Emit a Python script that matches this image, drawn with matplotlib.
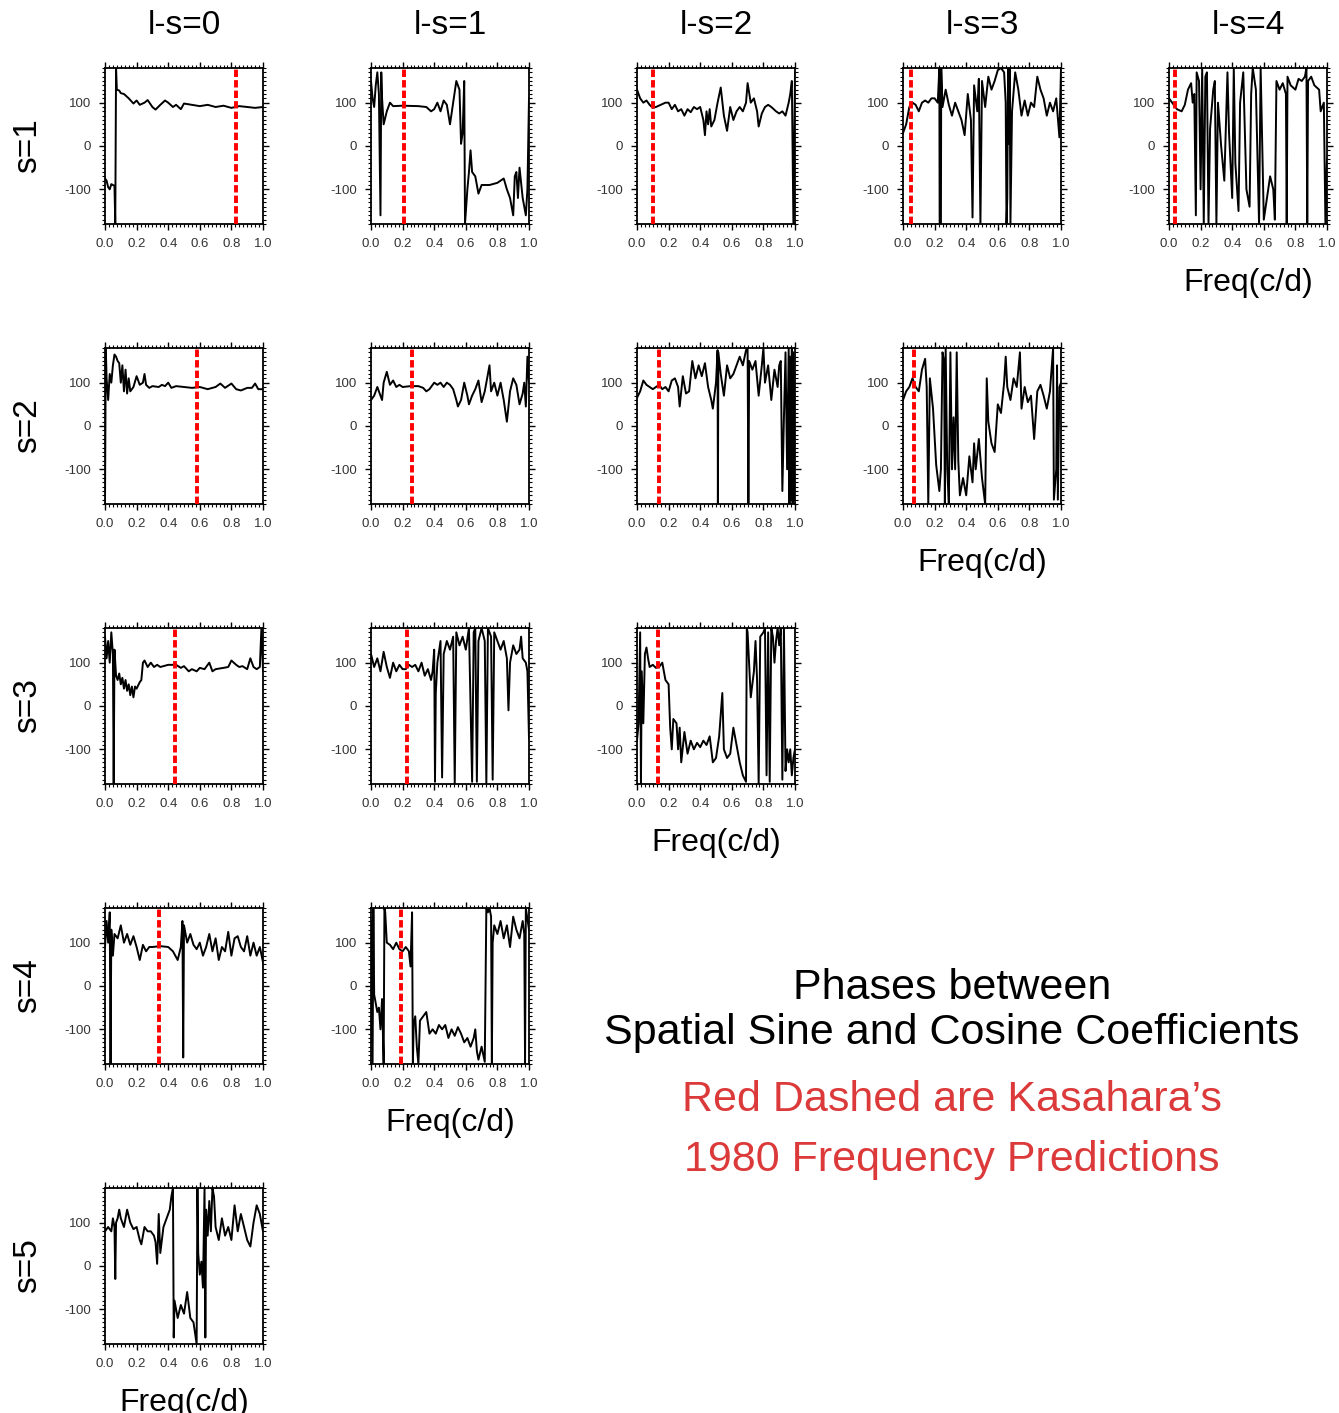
import numpy as np
import matplotlib
matplotlib.use("Agg")
import matplotlib.pyplot as plt
from matplotlib.ticker import MultipleLocator

plt.rcParams['font.family'] = ['Liberation Sans', 'DejaVu Sans']
plt.rcParams['axes.unicode_minus'] = False

W, H = 1339, 1413

# phase (deg) vs frequency (c/d); key = (s, l-s)
s1_ls0 = [(0.0, -75), (0.01, -80), (0.02, -95), (0.03, -100), (0.04, -88), (0.06, -92), (0.065, -180),
          (0.07, 180), (0.075, 130), (0.09, 128), (0.1, 122), (0.12, 120), (0.15, 110), (0.18, 98),
          (0.2, 105), (0.22, 95), (0.25, 100), (0.27, 106), (0.3, 90), (0.32, 84), (0.35, 95),
          (0.38, 105), (0.4, 100), (0.43, 90), (0.45, 95), (0.48, 85), (0.5, 98), (0.55, 95),
          (0.6, 92), (0.65, 95), (0.7, 90), (0.75, 93), (0.8, 88), (0.85, 92), (0.9, 90),
          (0.95, 88), (1.0, 90)]
s1_ls1 = [(0.0, 150), (0.01, 110), (0.02, 90), (0.03, 140), (0.04, 170), (0.05, 120), (0.06, -160),
          (0.065, 170), (0.07, 110), (0.08, 50), (0.1, 80), (0.12, 100), (0.14, 92), (0.2, 93),
          (0.3, 92), (0.35, 90), (0.38, 80), (0.4, 85), (0.42, 100), (0.44, 80), (0.46, 105),
          (0.48, 95), (0.5, 50), (0.52, 100), (0.54, 150), (0.56, 130), (0.57, 5), (0.58, 30),
          (0.59, 150), (0.595, -180), (0.61, -100), (0.62, -60), (0.63, -10), (0.64, -60),
          (0.66, -70), (0.68, -110), (0.7, -90), (0.75, -90), (0.8, -85), (0.84, -75), (0.86, -100),
          (0.88, -120), (0.9, -160), (0.91, -70), (0.92, -60), (0.93, -120), (0.94, -50),
          (0.96, -120), (0.98, -160), (0.99, -100), (1.0, 110)]
s1_ls2 = [(0.0, 130), (0.02, 110), (0.04, 100), (0.06, 105), (0.08, 95), (0.1, 88), (0.12, 90),
          (0.15, 95), (0.18, 100), (0.2, 100), (0.22, 85), (0.24, 95), (0.26, 80), (0.28, 85),
          (0.3, 70), (0.32, 85), (0.34, 78), (0.36, 90), (0.38, 85), (0.4, 90), (0.42, 60),
          (0.43, 25), (0.44, 80), (0.45, 50), (0.46, 85), (0.47, 45), (0.49, 60), (0.51, 100),
          (0.53, 135), (0.55, 70), (0.57, 35), (0.59, 90), (0.61, 60), (0.63, 80), (0.65, 90),
          (0.67, 80), (0.69, 100), (0.7, 145), (0.72, 100), (0.74, 110), (0.76, 80), (0.77, 45),
          (0.79, 75), (0.81, 90), (0.83, 95), (0.85, 90), (0.88, 80), (0.9, 75), (0.92, 80),
          (0.94, 70), (0.96, 100), (0.97, 120), (0.98, 150), (0.99, -180), (1.0, 170)]
s1_ls3 = [(0.0, 30), (0.02, 50), (0.04, 90), (0.06, 100), (0.08, 95), (0.1, 80), (0.12, 100),
          (0.14, 105), (0.16, 100), (0.18, 110), (0.2, 110), (0.22, 100), (0.23, 180), (0.232, -180),
          (0.24, -180), (0.242, 180), (0.25, 90), (0.27, 130), (0.29, 95), (0.31, 70), (0.33, 100),
          (0.35, 80), (0.37, 60), (0.39, 25), (0.41, 120), (0.43, 60), (0.44, -165), (0.45, 140),
          (0.47, 80), (0.48, 155), (0.49, -180), (0.5, 150), (0.52, 90), (0.54, 160), (0.56, 130),
          (0.58, 150), (0.6, 175), (0.62, 180), (0.64, 170), (0.65, 100), (0.655, -180),
          (0.66, -120), (0.665, 180), (0.67, 5), (0.675, 180), (0.68, -180), (0.69, 80),
          (0.71, 170), (0.73, 130), (0.75, 70), (0.77, 105), (0.79, 70), (0.81, 100), (0.83, 90),
          (0.85, 160), (0.87, 130), (0.89, 110), (0.91, 70), (0.93, 100), (0.95, 80), (0.97, 110),
          (0.99, 20), (1.0, 180)]
s1_ls4 = [(0.0, 110), (0.03, 95), (0.05, 85), (0.08, 80), (0.1, 95), (0.12, 130), (0.14, 145),
          (0.15, 100), (0.16, 120), (0.17, -160), (0.175, 170), (0.19, 150), (0.2, -100),
          (0.21, 180), (0.22, -180), (0.23, 160), (0.24, 170), (0.25, -180), (0.26, 40),
          (0.28, 130), (0.29, 150), (0.3, -180), (0.31, 100), (0.33, 0), (0.35, -80), (0.37, 170),
          (0.38, 30), (0.4, -120), (0.41, 180), (0.42, -40), (0.44, -150), (0.45, 100), (0.47, 170),
          (0.49, -100), (0.51, -140), (0.52, 120), (0.53, 180), (0.55, 130), (0.57, -180),
          (0.58, 180), (0.6, -170), (0.62, -120), (0.64, -70), (0.66, -100), (0.67, -170),
          (0.68, 150), (0.7, 130), (0.72, 145), (0.74, 120), (0.745, -180), (0.75, 160),
          (0.77, 140), (0.8, 130), (0.82, 155), (0.84, 150), (0.86, 160), (0.87, 180),
          (0.875, -180), (0.88, 150), (0.9, 160), (0.92, 140), (0.95, 130), (0.96, 80), (0.98, 100),
          (0.99, -180), (1.0, -30)]

s2_ls0 = [(0.0, -180), (0.005, 180), (0.01, 110), (0.02, 60), (0.03, 120), (0.04, 100), (0.05, 140),
          (0.06, 165), (0.07, 160), (0.08, 150), (0.09, 145), (0.1, 100), (0.11, 140), (0.12, 80),
          (0.13, 130), (0.14, 75), (0.15, 110), (0.16, 80), (0.18, 90), (0.2, 115), (0.22, 95),
          (0.24, 100), (0.25, 120), (0.26, 95), (0.28, 88), (0.3, 92), (0.34, 90), (0.36, 95),
          (0.38, 92), (0.4, 100), (0.42, 88), (0.45, 92), (0.5, 90), (0.55, 88), (0.6, 90),
          (0.65, 85), (0.7, 90), (0.73, 98), (0.76, 88), (0.8, 98), (0.83, 85), (0.86, 82),
          (0.9, 88), (0.93, 88), (0.95, 98), (0.97, 85), (1.0, 85)]
s2_ls1 = [(0.0, 60), (0.02, 70), (0.04, 90), (0.06, 70), (0.07, 60), (0.08, 100), (0.1, 125),
          (0.12, 95), (0.14, 105), (0.16, 90), (0.18, 95), (0.2, 90), (0.25, 92), (0.3, 92),
          (0.33, 88), (0.35, 80), (0.37, 85), (0.4, 100), (0.42, 95), (0.44, 100), (0.46, 90),
          (0.48, 100), (0.5, 95), (0.52, 85), (0.54, 60), (0.55, 45), (0.57, 60), (0.59, 100),
          (0.61, 70), (0.62, 50), (0.64, 70), (0.66, 85), (0.68, 105), (0.7, 55), (0.72, 80),
          (0.74, 120), (0.75, 140), (0.76, 80), (0.78, 100), (0.8, 70), (0.82, 100), (0.84, 60),
          (0.86, 10), (0.88, 80), (0.9, 110), (0.92, 95), (0.94, 50), (0.96, 75), (0.97, 100),
          (0.98, 45), (0.99, 160), (1.0, 100)]
s2_ls2 = [(0.0, 65), (0.02, 80), (0.04, 105), (0.06, 95), (0.08, 90), (0.1, 85), (0.12, 90),
          (0.14, 95), (0.16, 85), (0.18, 90), (0.2, 80), (0.22, 105), (0.24, 110), (0.26, 90),
          (0.27, 45), (0.29, 115), (0.31, 75), (0.33, 80), (0.35, 150), (0.37, 110), (0.39, 140),
          (0.41, 115), (0.43, 145), (0.45, 90), (0.47, 60), (0.48, 40), (0.5, 100), (0.51, 175),
          (0.512, -180), (0.515, 170), (0.53, 120), (0.55, 70), (0.57, 140), (0.59, 110),
          (0.61, 120), (0.63, 140), (0.65, 160), (0.67, 140), (0.69, 175), (0.7, 180),
          (0.705, -180), (0.71, 150), (0.73, 130), (0.75, 150), (0.77, 70), (0.79, 140),
          (0.8, 180), (0.81, 100), (0.83, 140), (0.85, 60), (0.87, 130), (0.89, 90), (0.9, 140),
          (0.91, 150), (0.92, -150), (0.93, 20), (0.94, 170), (0.95, -100), (0.96, 180),
          (0.965, -180), (0.97, 160), (0.975, -170), (0.98, 180), (0.985, -180), (0.99, 170),
          (1.0, -170)]
s2_ls3 = [(0.0, 60), (0.02, 80), (0.04, 90), (0.06, 110), (0.08, 90), (0.1, 80), (0.12, 130),
          (0.14, 155), (0.15, 90), (0.16, -180), (0.17, 110), (0.19, 40), (0.21, -90), (0.23, -150),
          (0.24, -100), (0.25, 170), (0.26, 150), (0.265, -180), (0.27, 180), (0.28, -100),
          (0.29, -180), (0.3, 170), (0.31, -100), (0.32, 20), (0.33, -100), (0.34, 170), (0.35, -80),
          (0.36, -160), (0.38, -120), (0.4, -160), (0.42, -70), (0.44, -130), (0.45, -40),
          (0.46, -100), (0.48, -30), (0.5, -120), (0.52, -180), (0.53, 110), (0.54, 10),
          (0.56, -40), (0.58, -60), (0.6, 50), (0.62, 30), (0.64, 100), (0.65, 160), (0.66, 90),
          (0.68, 60), (0.7, 110), (0.72, 90), (0.74, 170), (0.75, 40), (0.77, 90), (0.79, 55),
          (0.81, 70), (0.83, -30), (0.85, 80), (0.87, 95), (0.89, 70), (0.91, 40), (0.93, 80),
          (0.95, 180), (0.955, -170), (0.97, -100), (0.975, 140), (0.98, -170), (0.99, 90),
          (1.0, 100)]

s3_ls0 = [(0.0, 160), (0.01, 110), (0.02, 150), (0.03, 100), (0.04, 170), (0.05, 120), (0.055, -180),
          (0.06, 130), (0.07, 70), (0.08, 60), (0.09, 75), (0.1, 50), (0.11, 65), (0.12, 40),
          (0.13, 60), (0.14, 35), (0.15, 50), (0.16, 25), (0.17, 45), (0.18, 20), (0.19, 45),
          (0.2, 40), (0.22, 55), (0.23, 60), (0.24, 100), (0.25, 105), (0.27, 90), (0.29, 100),
          (0.31, 90), (0.33, 95), (0.35, 90), (0.4, 95), (0.45, 95), (0.48, 88), (0.5, 92),
          (0.53, 80), (0.55, 85), (0.58, 80), (0.6, 88), (0.63, 85), (0.66, 100), (0.68, 80),
          (0.7, 85), (0.75, 88), (0.78, 90), (0.8, 105), (0.83, 95), (0.85, 90), (0.87, 92),
          (0.9, 85), (0.92, 110), (0.94, 90), (0.96, 85), (0.98, 90), (0.99, 180), (1.0, 80)]
s3_ls1 = [(0.0, 120), (0.02, 90), (0.04, 110), (0.06, 80), (0.08, 125), (0.1, 90), (0.12, 65),
          (0.14, 100), (0.16, 80), (0.18, 95), (0.2, 85), (0.22, 85), (0.24, 95), (0.26, 90),
          (0.28, 95), (0.3, 80), (0.32, 100), (0.34, 70), (0.36, 85), (0.38, 60), (0.39, 80),
          (0.4, 130), (0.405, -175), (0.41, 30), (0.42, 100), (0.44, 150), (0.45, -165), (0.46, 120),
          (0.48, 150), (0.5, 130), (0.52, 160), (0.53, -180), (0.54, 170), (0.56, 140), (0.58, 160),
          (0.6, 130), (0.62, 180), (0.64, -175), (0.65, 170), (0.66, 180), (0.67, -175), (0.68, 150),
          (0.7, 180), (0.72, 150), (0.73, -180), (0.74, 180), (0.76, 160), (0.77, -170), (0.78, 170),
          (0.8, 150), (0.82, 130), (0.84, 150), (0.86, 110), (0.87, -10), (0.88, 100), (0.9, 140),
          (0.92, 120), (0.94, 130), (0.95, 160), (0.96, 110), (0.98, 100), (0.99, 80), (1.0, -75)]
s3_ls2 = [(0.0, -80), (0.01, -40), (0.02, 170), (0.025, -180), (0.03, 80), (0.04, -40), (0.05, 120),
          (0.06, 135), (0.07, 110), (0.08, 90), (0.1, 95), (0.12, 88), (0.14, 90), (0.16, 100),
          (0.17, 80), (0.18, 60), (0.2, 50), (0.21, -50), (0.22, -100), (0.23, -30), (0.25, -40),
          (0.26, -100), (0.27, -50), (0.28, -130), (0.3, -60), (0.32, -110), (0.34, -80),
          (0.36, -100), (0.38, -85), (0.4, -95), (0.42, -80), (0.44, -90), (0.46, -70), (0.48, -130),
          (0.5, -120), (0.52, -70), (0.53, -20), (0.54, 30), (0.55, -100), (0.57, -120),
          (0.59, -110), (0.61, -50), (0.63, -90), (0.65, -130), (0.67, -160), (0.69, -175),
          (0.695, 180), (0.7, 170), (0.72, 20), (0.74, 80), (0.75, 150), (0.76, 60), (0.77, -180),
          (0.78, 160), (0.8, 170), (0.81, 180), (0.82, -160), (0.83, 170), (0.84, -175),
          (0.85, 180), (0.86, 160), (0.87, 100), (0.88, 150), (0.89, 180), (0.9, 140), (0.91, 180),
          (0.92, -170), (0.93, 180), (0.94, -150), (0.95, -100), (0.96, -130), (0.97, -100),
          (0.98, -160), (0.99, -120), (1.0, -100)]

s4_ls0 = [(0.0, 90), (0.01, 150), (0.02, 100), (0.03, 170), (0.035, -180), (0.04, 130), (0.05, 70),
          (0.06, 120), (0.08, 110), (0.1, 140), (0.12, 100), (0.14, 120), (0.16, 95), (0.18, 115),
          (0.2, 90), (0.22, 60), (0.24, 95), (0.26, 80), (0.28, 90), (0.3, 90), (0.35, 92),
          (0.4, 90), (0.43, 80), (0.46, 60), (0.48, 90), (0.49, 150), (0.495, -165), (0.5, 140),
          (0.52, 100), (0.54, 120), (0.56, 95), (0.58, 85), (0.6, 100), (0.62, 70), (0.64, 90),
          (0.66, 120), (0.68, 80), (0.7, 110), (0.72, 60), (0.74, 90), (0.76, 80), (0.78, 125),
          (0.8, 70), (0.82, 110), (0.84, 115), (0.86, 90), (0.88, 80), (0.9, 115), (0.92, 70),
          (0.94, 100), (0.96, 70), (0.98, 90), (1.0, 55)]
s4_ls1 = [(0.0, 150), (0.01, -180), (0.015, 180), (0.02, -20), (0.03, -40), (0.04, -60), (0.05, -50),
          (0.06, -100), (0.07, -30), (0.08, -180), (0.085, 180), (0.09, 170), (0.1, 100), (0.12, 95),
          (0.14, 85), (0.16, 100), (0.18, 85), (0.2, 80), (0.22, 90), (0.24, 80), (0.25, 45),
          (0.26, 170), (0.265, -180), (0.27, -90), (0.28, -70), (0.29, -140), (0.3, -180),
          (0.31, -80), (0.33, -70), (0.35, -60), (0.37, -110), (0.39, -100), (0.41, -110),
          (0.43, -90), (0.45, -100), (0.47, -90), (0.49, -120), (0.51, -100), (0.53, -115),
          (0.55, -95), (0.57, -110), (0.59, -130), (0.61, -120), (0.63, -140), (0.65, -120),
          (0.66, -100), (0.67, -150), (0.68, -170), (0.7, -140), (0.72, -175), (0.73, 180),
          (0.74, 170), (0.75, 180), (0.76, 160), (0.765, -180), (0.77, 100), (0.78, 140),
          (0.8, 120), (0.82, 150), (0.84, 110), (0.86, 140), (0.88, 90), (0.9, 160), (0.92, 130),
          (0.94, 110), (0.96, 150), (0.97, 120), (0.975, -180), (0.98, 180), (1.0, 130)]

s5_ls0 = [(0.0, 80), (0.02, 90), (0.04, 80), (0.05, 110), (0.06, 90), (0.065, -30), (0.07, 100),
          (0.08, 110), (0.09, 130), (0.1, 110), (0.12, 90), (0.13, 110), (0.14, 130), (0.16, 100),
          (0.18, 85), (0.2, 90), (0.22, 60), (0.23, 50), (0.25, 90), (0.27, 80), (0.29, 80),
          (0.31, 70), (0.32, 55), (0.33, 5), (0.34, 120), (0.35, 30), (0.37, 90), (0.39, 110),
          (0.41, 130), (0.42, 160), (0.43, 180), (0.435, -165), (0.44, -80), (0.46, -120),
          (0.48, -90), (0.5, -110), (0.52, -60), (0.54, -120), (0.56, -130), (0.58, -180),
          (0.585, 180), (0.59, 30), (0.6, -20), (0.61, 10), (0.62, -50), (0.63, 180), (0.635, -165),
          (0.64, 130), (0.65, 70), (0.66, 150), (0.67, 80), (0.68, 180), (0.69, 160), (0.7, 90),
          (0.72, 60), (0.74, 110), (0.76, 70), (0.78, 90), (0.8, 60), (0.82, 140), (0.84, 80),
          (0.86, 120), (0.88, 90), (0.9, 60), (0.92, 45), (0.94, 100), (0.96, 140), (0.98, 120),
          (1.0, 80)]

# Kasahara (1980) predicted frequencies, one list per s row (index = l-s)
kas_s1 = [0.83, 0.21, 0.10, 0.05, 0.035]
kas_s2 = [0.58, 0.26, 0.14, 0.07]
kas_s3 = [0.44, 0.23, 0.13]
kas_s4 = [0.34, 0.19]
kas_s5 = []

rows = [
    [s1_ls0, s1_ls1, s1_ls2, s1_ls3, s1_ls4],
    [s2_ls0, s2_ls1, s2_ls2, s2_ls3],
    [s3_ls0, s3_ls1, s3_ls2],
    [s4_ls0, s4_ls1],
    [s5_ls0],
]
kas_rows = [kas_s1, kas_s2, kas_s3, kas_s4, kas_s5]

col_left = [105, 371, 637, 903, 1169]
row_top = [68, 348, 628, 908, 1188]
pw, ph = 158, 156

fig = plt.figure(figsize=(W / 100, H / 100), dpi=100)


def add_panel(left, top):
    return fig.add_axes([left / W, 1 - (top + ph) / H, pw / W, ph / H])


for i, panels in enumerate(rows):
    for j, pts in enumerate(panels):
        ax = add_panel(col_left[j], row_top[i])
        arr = np.array(pts, dtype=float)
        ax.plot(arr[:, 0], arr[:, 1], color='black', lw=1.4, zorder=2)
        if j < len(kas_rows[i]):
            ax.axvline(kas_rows[i][j], color='#ff0000', lw=2.8, dashes=(1.9, 0.8),
                       dash_capstyle='butt', zorder=3)
        ax.set_xlim(0, 1)
        ax.set_ylim(-180, 180)
        ax.set_xticks(np.arange(0, 1.01, 0.2))
        ax.set_xticklabels(['%.1f' % v for v in np.arange(0, 1.01, 0.2)])
        ax.set_yticks([-100, 0, 100])
        ax.xaxis.set_minor_locator(MultipleLocator(0.025))
        ax.yaxis.set_minor_locator(MultipleLocator(10))
        ax.tick_params(which='both', direction='out', top=True, right=True,
                       labelsize=9.5, pad=6, labelcolor='#333333')
        ax.tick_params(which='major', length=4, width=1.0)
        ax.tick_params(which='minor', length=2, width=0.8)
        for sp in ax.spines.values():
            sp.set_linewidth(1.3)
        if j == len(panels) - 1:
            fig.text((col_left[j] + pw / 2) / W, 1 - (row_top[i] + ph + 59) / H, 'Freq(c/d)',
                     ha='center', va='center', fontsize=23)

for j in range(5):
    fig.text((col_left[j] + pw / 2) / W, 1 - 25 / H, 'l-s=%d' % j,
             ha='center', va='center', fontsize=24)
for i in range(5):
    fig.text(28 / W, 1 - (row_top[i] + ph / 2) / H, 's=%d' % (i + 1),
             ha='center', va='center', rotation=90, fontsize=24)

cx = 952 / W
fig.text(cx, 1 - 988 / H, 'Phases between', ha='center', va='center', fontsize=31)
fig.text(cx, 1 - 1033 / H, 'Spatial Sine and Cosine Coefficients', ha='center', va='center',
         fontsize=31)
fig.text(cx, 1 - 1100 / H, 'Red Dashed are Kasahara\u2019s', ha='center', va='center',
         fontsize=31, color='#dc3a3a')
fig.text(cx, 1 - 1160 / H, '1980 Frequency Predictions', ha='center', va='center',
         fontsize=31, color='#dc3a3a')

fig.savefig('out.png', dpi=100)
